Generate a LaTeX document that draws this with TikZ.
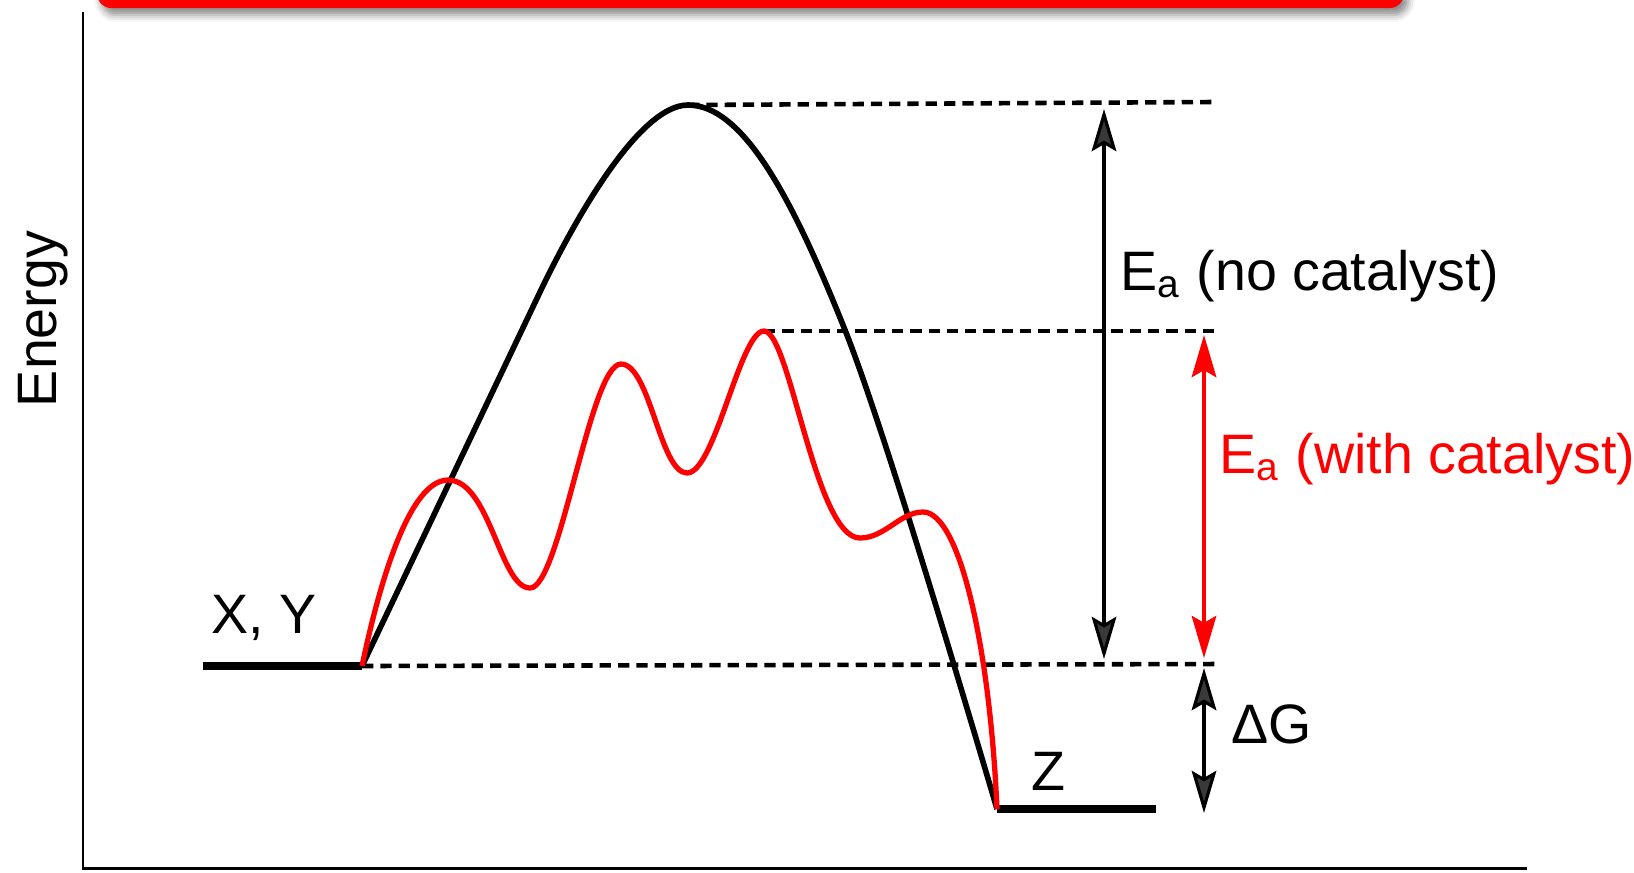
\documentclass[tikz,border=0pt]{standalone}
\usepackage{fontspec}
\setmainfont{Liberation Sans}
\usetikzlibrary{arrows.meta,shadows.blur}

\begin{document}
\begin{tikzpicture}[x=0.01cm, y=-0.01cm, >={Stealth[length=12pt,width=7pt,inset=2pt]},
  lbl/.style={font=\fontsize{15.8}{18}\selectfont, inner sep=0pt, anchor=base west},
  level/.style={line width=2.3pt},
  guide/.style={dash pattern=on 3.2pt off 2pt, line width=1.3pt},
  gap/.style={<->, line width=0.9pt}]
\useasboundingbox (0,0) rectangle (1634,872);
\fill[red, rounded corners=4pt, blur shadow={shadow xshift=1.2pt, shadow yshift=-2pt, shadow blur radius=2pt, shadow opacity=45}] (97,-40) rectangle (1404,8);
\coordinate (top) at (83,12);
\coordinate (O) at (83,868);
\coordinate (right) at (1527,868);
\draw[line width=0.85pt] (top) -- (O) -- (right);
\coordinate (xy) at (362,666);
\coordinate (z) at (997,809);
\coordinate (peak) at (688,105);
\coordinate (cpeak) at (764,331);
\draw[level] (203,666) -- (xy);
\draw[level] (z) -- (1156,809);
\draw[guide] (peak) -- (1212,102);
\draw[guide] (cpeak) -- (1217,331);
\draw[guide] (xy) -- (1218,664);
\draw[line width=1.6pt] (xy) -- (540,292) .. controls (572,225) and (638,105) .. (peak)
  .. controls (745,105) and (795,205) .. (845,330)
  .. controls (879,415) and (950,650) .. (z);
\draw[red, line width=1.5pt] (xy) .. controls (380,580) and (410,480) .. (448,480)
  .. controls (490,480) and (500,588) .. (530,588)
  .. controls (560,588) and (590,364) .. (621,364)
  .. controls (650,364) and (660,473) .. (687,473)
  .. controls (715,473) and (740,331) .. (cpeak)
  .. controls (790,331) and (815,538) .. (860,538)
  .. controls (885,538) and (900,512) .. (923,512)
  .. controls (960,512) and (990,650) .. (z);
\draw[gap] (1104,109) -- (1104,659);
\draw[gap, red] (1204,335) -- (1204,658);
\draw[gap] (1204,668) -- (1204,813);
\node[lbl] (ea) at (1120,290) {E\textsubscript{a} (no catalyst)};
\node[lbl, red] (eacat) at (1219,473) {E\textsubscript{a} (with catalyst)};
\node[lbl] (dg) at (1231,743) {ΔG};
\node[lbl] (zlab) at (1031,790) {Z};
\node[lbl] (xylab) at (211,633) {X, Y};
\node[lbl, anchor=base, rotate=90] (energy) at (56,319) {Energy};
\end{tikzpicture}
\end{document}
